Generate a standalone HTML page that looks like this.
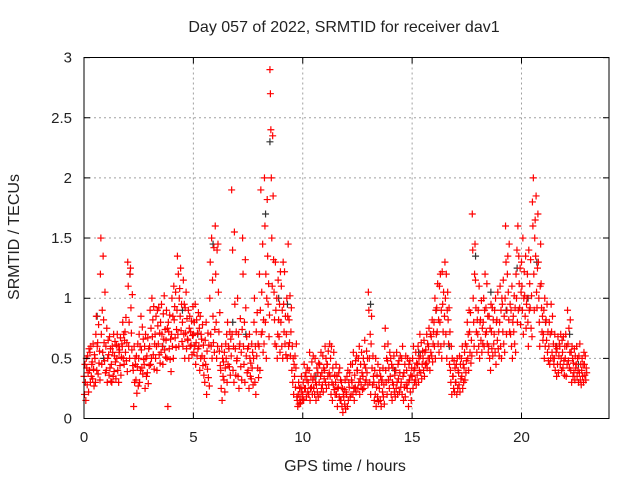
<!DOCTYPE html>
<html><head><meta charset="utf-8"><style>
html,body{margin:0;padding:0;background:#fff;}
svg text{font-family:"Liberation Sans",sans-serif;fill:#222;}
</style></head><body>
<svg id="chart" width="640" height="480" xmlns="http://www.w3.org/2000/svg">
<rect width="640" height="480" fill="#fff"/>
<g id="grid"></g>
<g id="pts"></g>
<rect x="84" y="57.5" width="525" height="361" fill="none" stroke="#000" stroke-width="1"/>
<g id="ticks"></g>
<text x="344" y="32" font-size="16" text-anchor="middle">Day 057 of 2022, SRMTID for receiver dav1</text>
<text x="345" y="471" font-size="16" text-anchor="middle">GPS time / hours</text>
<text x="19" y="237" font-size="16" text-anchor="middle" transform="rotate(-90 19 237)">SRMTID / TECUs</text>
</svg>
<script>
const xTicks=[0,5,10,15,20];
const yTicks=[0,0.5,1,1.5,2,2.5,3];
const yTickLabels=["0","0.5","1","1.5","2","2.5","3"];
const stepHours=[];for(let i=0;i<92;i++)stepHours.push(i*0.25);
const redVals=[
[.35,.2,.45,.3,.15,.5],[.4,.55,.3,.6,.35,.45],[.5,.3,.7,.85,.4,.6],[1.2,1.5,.7,.45,.9,.55],
[.6,.4,.75,.3,.5,.65],[.45,.3,.6,.55,.35,.7],[.5,.7,.4,.6,.3,.55],[.6,.8,.5,.7,.45,.65],
[1.3,1.1,.6,.8,.5,1.2],[.4,.1,.6,.3,.5,.45],[.5,.7,.3,.6,.4,.85],[.45,.6,.25,.7,.5,.35],
[.6,.9,.45,.75,.5,1.0],[.7,.5,.85,.6,.4,.9],[.8,.55,.95,.7,.6,.45],[.65,.9,.5,.75,.1,.8],
[.7,1.0,.6,.85,.5,1.1],[.9,1.35,.7,1.2,.6,1.0],[.8,.6,1.15,.7,.95,.5],[.65,.9,.5,.75,.85,.6],
[.7,.55,.8,.6,.95,.45],[.6,.75,.4,.85,.5,.7],[.5,.3,.65,.45,.8,.2],[1.0,1.3,.7,.6,1.5,.5],
[1.6,1.2,.8,.5,1.4,.6],[.4,.25,.6,.15,.5,.35],[.5,.7,.3,.8,.45,.6],[1.9,.7,1.4,.4,.6,.3],
[.5,1.0,.35,.7,.25,.6],[1.5,1.2,.6,.45,.8,.3],[.4,.6,.25,.7,.5,.35],[.5,.8,1.0,.3,.6,.2],
[.6,1.2,.4,.9,1.9,.7],[2.0,1.6,.8,1.2,.5,1.0],[2.9,2.7,2.4,2.0,1.5,1.1],[1.3,.9,.6,1.0,.5,.7],
[.8,1.1,.6,.9,.5,1.3],[.7,1.0,.5,.85,1.45,.6],[.4,.6,.3,.5,.2,.45],[.15,.1,.2,.3,.12,.25],
[.2,.3,.15,.45,.25,.35],[.3,.2,.4,.55,.15,.25],[.25,.35,.2,.5,.3,.15],[.3,.45,.2,.35,.55,.25],
[.4,.6,.3,.5,.25,.45],[.35,.5,.2,.6,.3,.15],[.3,.45,.2,.35,.1,.25],[.15,.3,.1,.25,.05,.2],
[.2,.35,.1,.4,.15,.3],[.3,.45,.2,.55,.25,.15],[.4,.25,.5,.3,.6,.2],[.35,.5,.25,.45,.65,.3],
[1.05,.9,.5,.3,.7,.2],[.3,.15,.4,.2,.5,.1],[.25,.4,.15,.35,.1,.3],[.6,.75,.4,.3,.5,.2],
[.35,.5,.2,.45,.15,.3],[.4,.25,.55,.3,.2,.45],[.3,.5,.2,.6,.35,.15],[.4,.25,.5,.3,.1,.45],
[.35,.5,.25,.6,.4,.3],[.45,.6,.3,.5,.4,.7],[.5,.4,.65,.35,.55,.45],[.6,.75,.5,.4,.7,.55],
[.8,.6,1.0,.5,.9,.7],[1.1,.8,1.2,.6,.9,.5],[1.3,1.0,.7,1.2,.5,.9],[.4,.3,.6,.2,.5,.35],
[.3,.45,.2,.5,.25,.4],[.5,.35,.6,.25,.45,.3],[.6,.8,.5,.7,.4,.9],[1.7,1.4,1.0,.8,.6,1.2],
[.7,.9,.6,1.1,.5,.8],[.8,1.0,.6,.9,1.2,.7],[.6,.85,.5,.75,.4,.95],[.7,.9,.55,1.0,.45,.8],
[.8,1.1,.6,.9,.5,1.0],[1.0,1.6,1.3,.7,.9,1.2],[.7,.9,.6,1.1,.5,.8],[1.2,1.0,1.4,.8,1.6,.9],
[1.3,1.1,.9,1.5,.7,1.0],[1.0,1.2,.8,.6,1.4,.9],[1.8,1.6,2.0,1.2,.9,1.5],[1.7,1.3,1.0,.8,.6,1.1],
[.7,.9,.5,1.0,.6,.8],[.6,.8,.45,.7,.5,.95],[.5,.7,.4,.6,.55,.35],[.6,.45,.7,.5,.4,.65],
[.5,.7,.35,.6,.45,.9],[.4,.55,.3,.6,.5,.35],[.45,.6,.35,.5,.4,.3],[.4,.5,.35,.45,.3,.55]];
const redVals2=[
[.42,.28,.52,.38,.22,.58],[.47,.33,.62,.41,.27,.53],[.63,.37,.78,.46,.56,.32],[1.35,.82,.63,.48,1.05,.38],
[.53,.36,.68,.42,.58,.31],[.39,.52,.64,.47,.33,.61],[.57,.44,.67,.36,.51,.62],[.72,.55,.84,.48,.63,.39],
[1.25,.92,.71,.57,1.03,.44],[.32,.52,.21,.43,.62,.27],[.57,.42,.76,.37,.66,.49],[.52,.38,.67,.29,.58,.44],
[.68,.82,.53,.93,.41,.62],[.77,.62,.92,.53,.71,.46],[.87,.66,1.02,.57,.74,.51],[.72,.58,.86,.49,.66,.39],
[.82,.93,.67,1.05,.59,.74],[1.08,.85,1.25,.73,.95,.64],[.92,.71,1.05,.58,.83,.66],[.72,.61,.81,.53,.69,.93],
[.63,.82,.52,.71,.58,.88],[.66,.52,.78,.44,.61,.36],[.56,.41,.71,.34,.61,.27],[1.15,.85,.63,1.42,.55,.74],
[1.45,1.05,.72,.56,.88,.44],[.47,.32,.55,.22,.42,.62],[.58,.43,.72,.36,.66,.52],[1.55,.95,.58,.36,.72,.48],
[.62,.83,.43,.55,.32,.74],[1.32,.92,.52,.68,.38,.58],[.46,.33,.62,.42,.55,.28],[.72,.52,.88,.42,.62,.34],
[1.05,.72,1.45,.55,.82,.62],[1.82,1.35,.95,1.12,.68,.86],[2.35,1.85,1.32,1.05,.82,.62],[1.15,.82,.68,.95,.55,1.22],
[.95,.72,1.22,.62,.85,.53],[.82,.63,1.02,.52,.72,.92],[.35,.52,.26,.42,.62,.18],[.18,.13,.26,.35,.22,.16],
[.25,.38,.18,.32,.42,.22],[.35,.26,.47,.2,.32,.52],[.28,.42,.22,.38,.18,.46],[.38,.28,.52,.22,.42,.33],
[.45,.35,.56,.28,.38,.62],[.42,.28,.55,.24,.36,.2],[.26,.38,.18,.42,.15,.32],[.18,.24,.12,.32,.08,.22],
[.26,.38,.18,.45,.2,.32],[.36,.26,.48,.22,.52,.4],[.33,.45,.28,.55,.38,.24],[.42,.32,.56,.38,.5,.28],
[.62,.85,.42,.28,.52,.35],[.26,.36,.18,.45,.14,.3],[.32,.22,.42,.18,.28,.12],[.48,.62,.32,.42,.25,.55],
[.42,.28,.52,.22,.36,.18],[.33,.48,.22,.38,.52,.26],[.38,.26,.45,.18,.52,.28],[.32,.48,.22,.36,.15,.42],
[.42,.32,.55,.28,.46,.36],[.52,.38,.63,.33,.45,.56],[.57,.46,.7,.42,.62,.5],[.68,.52,.82,.47,.62,.72],
[.92,.72,1.12,.62,.82,.55],[1.22,.95,.72,1.05,.62,.85],[1.05,.82,.62,.92,.45,.72],[.35,.25,.48,.22,.42,.3],
[.38,.28,.52,.22,.45,.33],[.42,.55,.32,.62,.38,.48],[.72,.55,.88,.46,.65,.52],[1.45,1.15,.92,.72,.55,.82],
[.82,.65,.98,.55,.75,.62],[.92,.72,1.12,.62,.85,.55],[.72,.58,.92,.52,.82,.62],[.82,.65,1.05,.58,.72,.52],
[.95,.72,1.15,.62,.85,.55],[1.35,1.05,.82,1.45,.72,.95],[.85,.72,1.02,.62,.92,.55],[1.35,1.12,.92,1.25,.78,1.05],
[1.22,1.02,.85,1.35,.75,.95],[1.12,.92,1.32,.75,1.02,.68],[1.65,1.35,1.85,1.05,.92,1.25],[1.45,1.12,.92,.72,.85,.65],
[.82,.65,.95,.55,.72,.48],[.72,.55,.85,.5,.62,.45],[.58,.45,.68,.38,.52,.62],[.55,.42,.68,.48,.36,.6],
[.62,.48,.75,.42,.55,.82],[.46,.38,.58,.32,.52,.42],[.52,.38,.62,.32,.45,.28],[.45,.36,.52,.32,.42,.38]];
const blackHours=[0.6,0.9,2.1,3.6,4.5,5.2,5.9,6.8,7.4,8.3,8.5,8.9,9.3,10.6,12.4,13.1,14.2,15.3,16.1,16.7,17.9,18.6,19.3,19.8,20.3,20.7,21.1,21.6,22.2,22.6];
const blackVals=[0.85,0.5,1.2,0.6,0.9,0.7,1.45,0.8,0.7,1.7,2.3,1.0,0.95,0.35,0.25,0.95,0.4,0.55,0.9,0.6,1.35,1.05,0.9,1.25,1.0,1.3,0.8,0.6,0.7,0.45];
const X=h=>84+h*(525/24), Y=v=>418.5-v*120.3;
const NS="http://www.w3.org/2000/svg";
const grid=document.getElementById('grid'),ticks=document.getElementById('ticks'),pts=document.getElementById('pts');
function mk(tag,at,parent){const e=document.createElementNS(NS,tag);for(const k in at)e.setAttribute(k,at[k]);parent.appendChild(e);return e;}
xTicks.forEach(t=>{const x=X(t);
 if(t>0){const l=mk('line',{x1:x,x2:x,y1:57.5,y2:418.5,stroke:'#a0a0a0','stroke-dasharray':'2,3'},grid);
 
 }
 const tk=mk('path',{d:`M${x} 418.5v-6M${x} 57.5v6`,stroke:'#000'},ticks);
 
 
 const tx=mk('text',{x:x,y:442,'font-size':15,'text-anchor':'middle'},ticks);tx.textContent=String(t);
 
 });
yTicks.forEach((t,i)=>{const y=Y(t);
 if(t>0&&t<3){const l=mk('line',{x1:84,x2:609,y1:y,y2:y,stroke:'#a0a0a0','stroke-dasharray':'2,3'},grid);
 
 }
 const tk=mk('path',{d:`M84 ${y}h6M609 ${y}h-6`,stroke:'#000'},ticks);
 
 
 const tx=mk('text',{x:72,y:y+5,'font-size':15,'text-anchor':'end'},ticks);tx.textContent=yTickLabels[i];
 
 });
function cross(h,v,col){const x=X(h),y=Y(v);
 const p=mk('path',{d:`M${x-3.5} ${y}h7M${x} ${y-3.5}v7`,stroke:col,'stroke-width':1.2},pts);
 
 }
blackHours.forEach((h,i)=>cross(h,blackVals[i],'#333'));
stepHours.forEach((h,i)=>redVals[i].forEach((v,j)=>cross(h+j*0.021,v,'#f00')));
stepHours.forEach((h,i)=>redVals2[i].forEach((v,j)=>cross(h+0.125+j*0.021,v,'#f00')));
</script>
</body></html>
